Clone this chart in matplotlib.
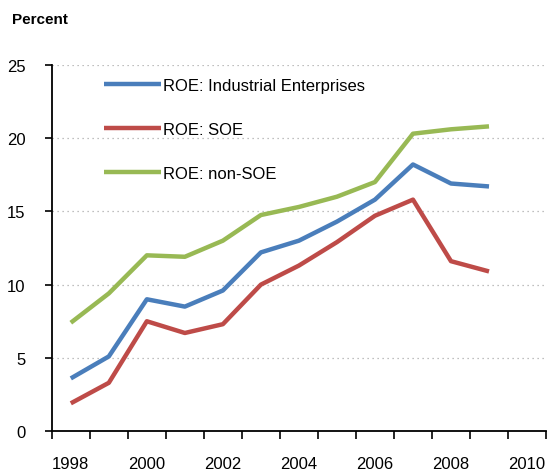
import matplotlib.pyplot as plt
from matplotlib.ticker import FixedLocator, NullFormatter

# Data
years = [1998, 1999, 2000, 2001, 2002, 2003, 2004, 2005, 2006, 2007, 2008, 2009]
roe_industrial = [3.6, 5.1, 9.0, 8.5, 9.6, 12.2, 13.0, 14.3, 15.8, 18.2, 16.9, 16.7]
roe_soe = [1.9, 3.3, 7.5, 6.7, 7.3, 10.0, 11.3, 12.9, 14.7, 15.8, 11.6, 10.9]
roe_non_soe = [7.4, 9.4, 12.0, 11.9, 13.0, 14.75, 15.3, 16.0, 17.0, 20.3, 20.6, 20.8]
labels = ['ROE: Industrial Enterprises', 'ROE: SOE', 'ROE: non-SOE']
colors = ['#4a7ebb', '#be4b48', '#98b954']
xlabels = [1998, 2000, 2002, 2004, 2006, 2008, 2010]

plt.rcParams['font.family'] = ['Liberation Sans', 'DejaVu Sans']

fig = plt.figure(figsize=(5.51, 4.77), dpi=100)
ax = fig.add_axes([0.094, 0.094, 0.897, 0.768])

for serie, lab, col in zip([roe_industrial, roe_soe, roe_non_soe], labels, colors):
    ax.plot(years, serie, color=col, lw=3.2, label=lab, solid_capstyle='butt')

ax.set_xlim(1997.5, 2010.5)
ax.set_ylim(0, 25)
ax.set_yticks([0, 5, 10, 15, 20, 25])
ax.yaxis.grid(True, linestyle=(0, (1, 3)), color='#aaaaaa', lw=0.9)
ax.set_axisbelow(True)

# ticks between categories, labels on even years
ax.xaxis.set_major_locator(FixedLocator([y - 0.5 for y in range(1998, 2012)]))
ax.xaxis.set_major_formatter(NullFormatter())
ax.xaxis.set_minor_locator(FixedLocator(xlabels))
ax.set_xticklabels([str(x) for x in xlabels], minor=True)
ax.tick_params(axis='x', which='major', length=6, width=1.2, direction='out')
ax.tick_params(axis='x', which='minor', length=0, pad=18, labelsize=12)
ax.tick_params(axis='y', length=5, width=1.2, direction='out', pad=14, labelsize=12)

for s in ['top', 'right']:
    ax.spines[s].set_visible(False)
for s in ['left', 'bottom']:
    ax.spines[s].set_linewidth(1.3)

fig.text(0.022, 0.958, 'Percent', fontsize=11, fontweight='bold', va='center', ha='left')

ax.legend(loc='upper left', bbox_to_anchor=(0.075, 1.005), frameon=False, fontsize=12,
          handlelength=3.4, handletextpad=0.15, labelspacing=1.75)

plt.savefig('out.png', dpi=100)
